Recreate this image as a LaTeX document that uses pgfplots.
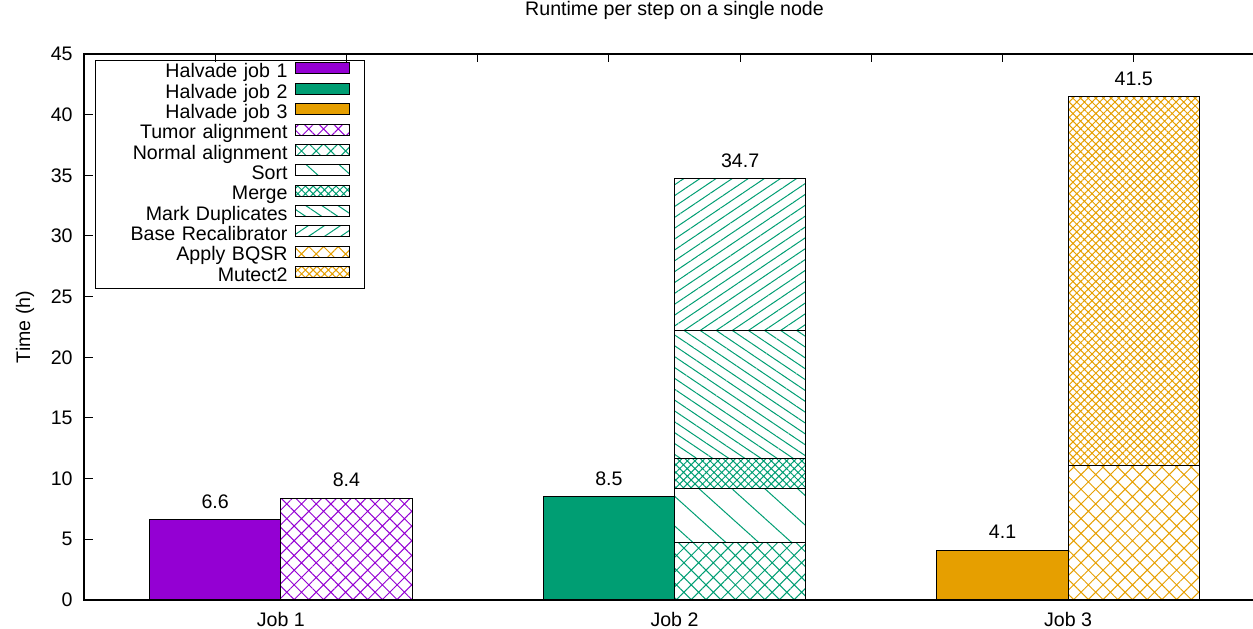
\documentclass[border=0pt]{standalone}
\usepackage{fontspec}
\setmainfont{Liberation Sans}
\usepackage{pgfplots}
\pgfplotsset{compat=1.18}
\usetikzlibrary{patterns.meta}
\definecolor{cviolet}{HTML}{9400D3}
\definecolor{cgreen}{HTML}{009E73}
\definecolor{corange}{HTML}{E69F00}
\pgfplotsset{
  mybar/.style={draw=black, line width=0.5pt},
  commonax/.style={scale only axis, width=590.5pt, height=273pt,
    xmin=-0.5, xmax=2.5, ymin=0, ymax=45,
    axis line style={line width=0.6pt},
    tick align=inside,
    every tick/.style={black, line width=0.5pt}},
}
\begin{document}
\fontsize{9.8}{11.8}\selectfont
\begin{tikzpicture}
\begin{axis}[
  commonax,
  ybar stacked, bar width=0.33333,
  xtick={0,1,2}, xticklabels={Job 1,Job 2,Job 3},
  xtick pos=left, ytick pos=left, ytick={0,5,...,45},
  major tick length=4.5pt,
  /pgf/number format/assume math mode=true,
  ylabel={Time (h)},
  ylabel style={at={(axis description cs:-0.05,0.5)}, anchor=center},
  title={Runtime per step on a single node},
  title style={at={(axis description cs:0.5,1)}, anchor=center, yshift=16pt},
  xticklabel style={anchor=center, yshift=-10pt},
  yticklabel style={anchor=east, inner sep=0pt, xshift=-5.5pt},
  legend plot pos=right,
  legend cell align=right,
  legend image code/.code={\draw[#1] (0pt,-0.45pt) rectangle (26.5pt,5.05pt); \path (34pt,0pt);},
  legend style={at={(axis description cs:0,1)}, anchor=north west, xshift=5.5pt, yshift=-3pt,
    draw=black, line width=0.5pt, inner xsep=0pt, inner ysep=1pt, column sep=4pt, row sep=0pt,
    nodes={text width=96pt, align=right, inner xsep=0pt, inner ysep=0pt, text height=7.2pt, text depth=2.55pt}},
]
% positions: -0.16667 0.16667 0.83333 1.16667 1.83333 2.16667
\addplot[mybar, fill=cviolet] coordinates {(-0.16667,6.6) (0.16667,0) (0.83333,0) (1.16667,0) (1.83333,0) (2.16667,0)};
\addlegendentry{Halvade job 1}
\addplot[mybar, fill=cgreen] coordinates {(-0.16667,0) (0.16667,0) (0.83333,8.5) (1.16667,0) (1.83333,0) (2.16667,0)};
\addlegendentry{Halvade job 2}
\addplot[mybar, fill=corange] coordinates {(-0.16667,0) (0.16667,0) (0.83333,0) (1.16667,0) (1.83333,4.1) (2.16667,0)};
\addlegendentry{Halvade job 3}
\addplot[mybar, pattern={Hatch[angle=45,distance=5.2pt,line width=0.5pt]}, pattern color=cviolet] coordinates {(-0.16667,0) (0.16667,8.4) (0.83333,0) (1.16667,0) (1.83333,0) (2.16667,0)};
\addlegendentry{Tumor alignment}
\addplot[mybar, pattern={Hatch[angle=45,distance=5.2pt,line width=0.5pt]}, pattern color=cgreen] coordinates {(-0.16667,0) (0.16667,0) (0.83333,0) (1.16667,4.7) (1.83333,0) (2.16667,0)};
\addlegendentry{Normal alignment}
\addplot[mybar, pattern={Lines[angle=-42,distance=11pt,line width=0.5pt]}, pattern color=cgreen] coordinates {(-0.16667,0) (0.16667,0) (0.83333,0) (1.16667,4.5) (1.83333,0) (2.16667,0)};
\addlegendentry{Sort}
\addplot[mybar, pattern={Hatch[angle=45,distance=2.7pt,line width=0.5pt]}, pattern color=cgreen] coordinates {(-0.16667,0) (0.16667,0) (0.83333,0) (1.16667,2.5) (1.83333,0) (2.16667,0)};
\addlegendentry{Merge}
\addplot[mybar, pattern={Lines[angle=-34,distance=4.5pt,line width=0.5pt]}, pattern color=cgreen] coordinates {(-0.16667,0) (0.16667,0) (0.83333,0) (1.16667,10.5) (1.83333,0) (2.16667,0)};
\addlegendentry{Mark Duplicates}
\addplot[mybar, pattern={Lines[angle=34,distance=4.5pt,line width=0.5pt]}, pattern color=cgreen] coordinates {(-0.16667,0) (0.16667,0) (0.83333,0) (1.16667,12.5) (1.83333,0) (2.16667,0)};
\addlegendentry{Base Recalibrator}
\addplot[mybar, pattern={Hatch[angle=45,distance=5.2pt,line width=0.5pt]}, pattern color=corange] coordinates {(-0.16667,0) (0.16667,0) (0.83333,0) (1.16667,0) (1.83333,0) (2.16667,11.1)};
\addlegendentry{Apply BQSR}
\addplot[mybar, pattern={Hatch[angle=45,distance=2.7pt,line width=0.5pt]}, pattern color=corange] coordinates {(-0.16667,0) (0.16667,0) (0.83333,0) (1.16667,0) (1.83333,0) (2.16667,30.4)};
\addlegendentry{Mutect2}
\end{axis}
\begin{axis}[
  commonax,
  ytick=\empty,
  xtick={-0.16667,0.16667,0.5,0.83333,1.16667,1.5,1.83333,2.16667},
  xticklabels={}, xtick pos=right,
  major tick length=3.8pt,
]
\addplot[draw=none, mark=none, nodes near coords, point meta=explicit symbolic,
  every node near coord/.append style={anchor=center, yshift=9pt, font=\fontsize{9.8}{11.8}\selectfont}]
  coordinates {(-0.16667,6.6)[6.6] (0.16667,8.4)[8.4] (0.83333,8.5)[8.5] (1.16667,34.7)[34.7] (1.83333,4.1)[4.1] (2.16667,41.5)[41.5]};
\end{axis}
\pgfresetboundingbox
\path[use as bounding box] ([xshift=-42pt,yshift=-14.5pt]current axis.south west) rectangle ([xshift=-6pt,yshift=27pt]current axis.north east);
\end{tikzpicture}
\end{document}
